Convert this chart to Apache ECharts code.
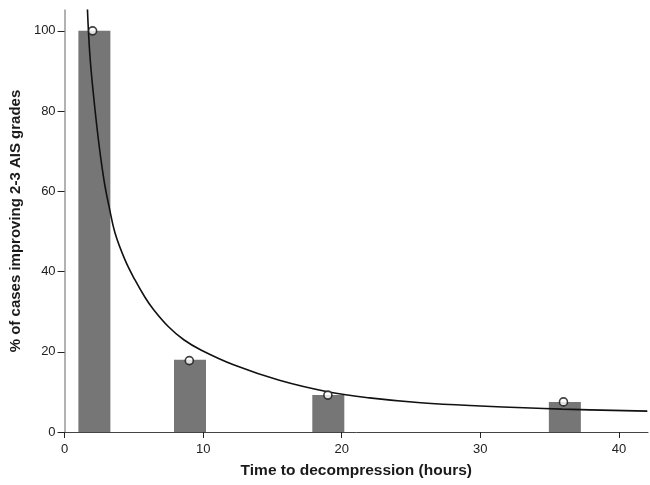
<!DOCTYPE html>
<html>
<head>
<meta charset="utf-8">
<script src="https://cdn.jsdelivr.net/npm/echarts@6/dist/echarts.min.js"></script>
<style>
  html, body { margin: 0; padding: 0; background: #fff; }
  #chart { width: 650px; height: 485px; }
</style>
</head>
<body>
<div id="chart"></div>
<script>
// bars: [time (hours), % of cases]
var barData = [[2.15, 100], [9.05, 18], [19.03, 9.2], [36.1, 7.5]];
// observed points (open circles)
var pointData = [[2.02, 100], [9.0, 17.8], [19.0, 9.2], [36.0, 7.5]];
// fitted curve
var curveData = [
  [1.65, 105.4], [1.72, 100.1], [1.85, 92.8], [2.07, 84.5], [2.33, 76.1],
  [2.61, 68.3], [2.92, 61.2], [3.21, 56.2], [3.64, 49.6], [4.36, 42.9],
  [5.08, 37.9], [5.8, 33.6], [6.4, 30.6], [7.48, 26.3], [8.6, 23.0],
  [9.87, 20.4], [12.24, 16.7], [15.5, 12.9], [18.97, 10.05], [22.0, 8.5],
  [25.7, 7.3], [30.0, 6.5], [35.9, 5.7], [42.05, 5.2]
];
var xTicks = [0, 10, 20, 30, 40];
var yTicks = [0, 20, 40, 60, 80, 100];

var chart = echarts.init(document.getElementById('chart'));
var font = 'Liberation Sans, Arial, sans-serif';
chart.setOption({
  animation: false,
  grid: { left: 62, right: 2, top: 10, bottom: 53 },
  xAxis: {
    type: 'value', min: 0, max: 42.1, interval: 10,
    name: 'Time to decompression (hours)',
    nameLocation: 'middle', nameGap: 31,
    nameTextStyle: { fontFamily: font, fontSize: 15.5, fontWeight: 'bold', color: '#1a1a1a' },
    axisLine: { onZero: false, lineStyle: { color: '#444', width: 1 } },
    axisTick: { length: 6, customValues: xTicks, lineStyle: { color: '#222' } },
    axisLabel: { fontFamily: font, fontSize: 13, color: '#222', margin: 11, customValues: xTicks },
    splitLine: { show: false }
  },
  yAxis: {
    type: 'value', min: 0, max: 105.2, interval: 20,
    name: '% of cases improving 2-3 AIS grades',
    nameLocation: 'middle', nameGap: 40,
    nameTextStyle: { fontFamily: font, fontSize: 15, fontWeight: 'bold', color: '#1a1a1a' },
    axisLine: { show: true, lineStyle: { color: '#999', width: 1.5 } },
    axisTick: { show: true, length: 7, customValues: yTicks, lineStyle: { color: '#222' } },
    axisLabel: { fontFamily: font, fontSize: 13, color: '#222', margin: 9, customValues: yTicks },
    splitLine: { show: false }
  },
  series: [
    {
      type: 'bar', data: barData, barWidth: 32,
      itemStyle: { color: '#767676' }
    },
    {
      type: 'line', data: curveData, smooth: 0.4,
      showSymbol: false, clip: true, z: 3,
      lineStyle: { color: '#111', width: 1.6 }
    },
    {
      type: 'scatter', data: pointData, symbol: 'circle', symbolSize: 8, z: 4,
      itemStyle: { color: '#fff', borderColor: '#111', borderWidth: 1.6 }
    }
  ]
});
</script>
</body>
</html>
